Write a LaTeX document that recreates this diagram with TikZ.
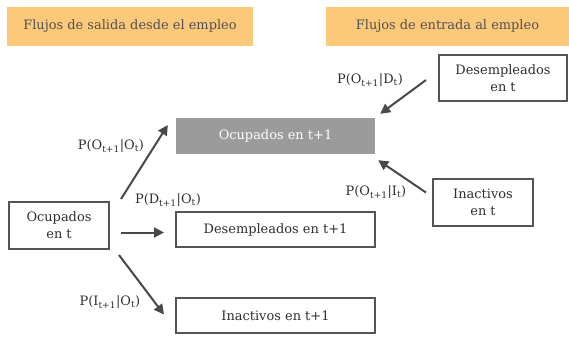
\documentclass[tikz,border=0pt]{standalone}
\usepackage{fontspec}
\setmainfont{DejaVu Serif}
\usetikzlibrary{arrows.meta,calc}
\definecolor{hdr}{HTML}{FCC97B}
\definecolor{hdrtxt}{HTML}{505050}
\definecolor{bord}{HTML}{555555}
\definecolor{grayfill}{HTML}{9B9B9B}
\definecolor{arr}{HTML}{484848}
\definecolor{txt}{HTML}{2E2E2E}
\begin{document}
\begin{tikzpicture}[x=1bp,y=-1bp,
  every node/.style={font=\fontsize{13}{16}\selectfont, text=txt},
  header/.style={fill=hdr, text=hdrtxt, inner sep=0pt, anchor=center},
  statebox/.style={draw=bord, line width=2bp, fill=white, align=center, inner sep=0pt, font=\fontsize{13}{17}\selectfont},
  graybox/.style={fill=grayfill, text=white, inner sep=0pt},
  flow/.style={draw=arr, line width=2bp, -{Triangle[length=10bp,width=10bp]}},
  prob/.style={inner sep=0pt, font=\fontsize{13}{16}\selectfont}]
\useasboundingbox (0,0) rectangle (569,336);
\node[header, minimum width=246bp, minimum height=39bp] (hL) at (130,26.5) {Flujos de salida desde el empleo};
\node[header, minimum width=243bp, minimum height=39bp] (hR) at (447.5,26.5) {Flujos de entrada al empleo};
\node[statebox, minimum width=128bp, minimum height=46bp] (Dt) at (503,78) {Desempleados\\en t};
\node[graybox, minimum width=199bp, minimum height=36bp] (Ot1) at (275.5,136) {Ocupados en t+1};
\node[statebox, minimum width=100bp, minimum height=47bp] (Ot) at (59,225.5) {Ocupados\\en t};
\node[statebox, minimum width=199bp, minimum height=35bp] (Dt1) at (275.5,229.5) {Desempleados en t+1};
\node[statebox, minimum width=199bp, minimum height=35bp] (It1) at (275.5,315.5) {Inactivos en t+1};
\node[statebox, minimum width=100bp, minimum height=47bp] (It) at (483,202.5) {Inactivos\\en t};
\draw[flow] ($(Ot.north east)+(11,-2)$) -- ($(Ot1.west)+(-8,-11)$);
\draw[flow] ($(Ot.east)+(11,7)$) -- ($(Dt1.west)+(-11,3)$);
\draw[flow] ($(Ot.south east)+(9,5)$) -- ($(It1.west)+(-11,-1)$);
\draw[flow] ($(Dt.west)+(-12,2)$) -- ($(Ot1.north east)+(5,-4)$);
\draw[flow] ($(It.west)+(-6,-10)$) -- ($(Ot1.south east)+(3,6)$);
\node[prob] (p1) at (111,146) {P(O\textsubscript{t+1}|O\textsubscript{t})};
\node[prob] (p2) at (168,200) {P(D\textsubscript{t+1}|O\textsubscript{t})};
\node[prob] (p3) at (110,302) {P(I\textsubscript{t+1}|O\textsubscript{t})};
\node[prob] (p4) at (370,80) {P(O\textsubscript{t+1}|D\textsubscript{t})};
\node[prob] (p5) at (376,192) {P(O\textsubscript{t+1}|I\textsubscript{t})};
\end{tikzpicture}
\end{document}
